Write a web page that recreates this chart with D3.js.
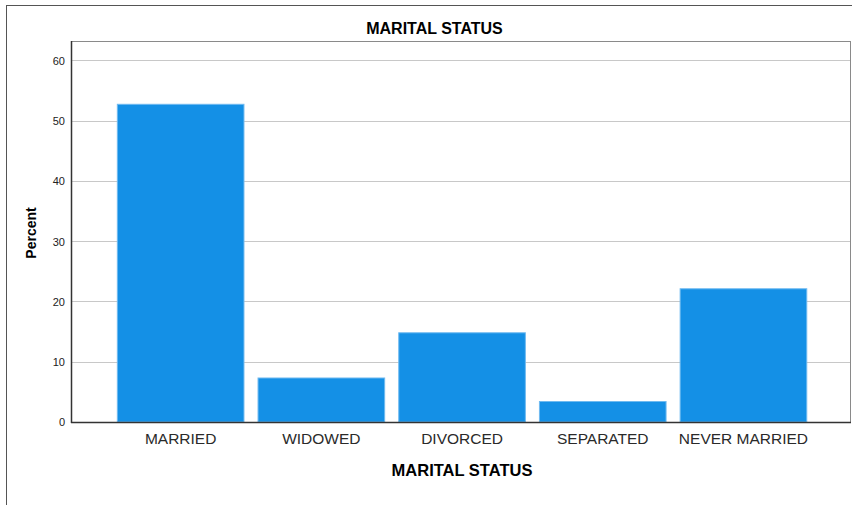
<html>
<head>
<meta charset="utf-8">
<script src="https://d3js.org/d3.v7.min.js"></script>
<style>
  body { margin: 0; background: #fff; }
  svg { font-family: "Liberation Sans", Arial, sans-serif; }
  .grid line { stroke: #c8c8c8; stroke-width: 1; }
  .ytick text { font-size: 11px; fill: #222; }
  .xtick text { font-size: 15.5px; fill: #2a2a2a; }
</style>
</head>
<body>
<div id="chart"></div>
<script>
// data
var categories = ["MARRIED", "WIDOWED", "DIVORCED", "SEPARATED", "NEVER MARRIED"];
var percents = [52.7, 7.3, 14.8, 3.4, 22.1];
var yTicks = [0, 10, 20, 30, 40, 50, 60];

var width = 852, height = 505;
var plot = { left: 71, top: 41, right: 850, bottom: 422 };

var svg = d3.select("#chart").append("svg")
  .attr("width", width)
  .attr("height", height);

// outer frame
svg.append("rect")
  .attr("x", 6.5).attr("y", 5.5)
  .attr("width", 850).attr("height", 520)
  .attr("fill", "none")
  .attr("stroke", "#555");

/* Scales */
var xScale = d3.scaleBand()
  .domain(categories)
  .range([110.3, 813.8])
  .paddingInner(0.1)
  .paddingOuter(0.05);

var yScale = d3.scaleLinear()
  .domain([0, 63.2])
  .range([plot.bottom, plot.top]);

/* plot frame (top / right in grey) */
svg.append("rect")
  .attr("x", plot.left + 0.5).attr("y", plot.top + 0.5)
  .attr("width", plot.right - plot.left).attr("height", plot.bottom - plot.top)
  .attr("fill", "none")
  .attr("stroke", "#8a8a8a");

/* Grid */
svg.append("g")
  .attr("class", "grid")
  .selectAll("line")
  .data(yTicks.filter(d => d > 0)).enter()
  .append("line")
  .attr("x1", plot.left).attr("x2", plot.right)
  .attr("y1", d => Math.round(yScale(d)) + 0.5)
  .attr("y2", d => Math.round(yScale(d)) + 0.5);

/* Bars */
svg.append("g")
  .selectAll("rect")
  .data(categories).enter()
  .append("rect")
  .attr("x", d => xScale(d))
  .attr("width", xScale.bandwidth())
  .attr("y", (d, i) => yScale(percents[i]))
  .attr("height", (d, i) => plot.bottom - yScale(percents[i]))
  .attr("fill", "#1490e6")
  .attr("stroke", "#6fbaf0")
  .attr("stroke-width", 1);

/* Axes */
var yAxis = d3.axisLeft(yScale).tickValues(yTicks).tickSize(0).tickPadding(6);
svg.append("g")
  .attr("class", "ytick")
  .attr("transform", `translate(${plot.left}, 0)`)
  .call(yAxis)
  .call(g => g.select(".domain").remove())
  .selectAll("text").attr("dy", "0.35em");

var xAxis = d3.axisBottom(xScale).tickSize(0).tickPadding(11);
svg.append("g")
  .attr("class", "xtick")
  .attr("transform", `translate(0, ${plot.bottom})`)
  .call(xAxis)
  .call(g => g.select(".domain").remove());

// axis lines
svg.append("line")
  .attr("x1", plot.left + 0.5).attr("x2", plot.left + 0.5)
  .attr("y1", plot.top).attr("y2", plot.bottom + 1)
  .attr("stroke", "#333").attr("stroke-width", 1.5);
svg.append("line")
  .attr("x1", plot.left).attr("x2", plot.right + 1)
  .attr("y1", plot.bottom + 0.5).attr("y2", plot.bottom + 0.5)
  .attr("stroke", "#333").attr("stroke-width", 1.5);

/* Titles */
svg.append("text")
  .attr("x", 434.5).attr("y", 34)
  .attr("text-anchor", "middle")
  .attr("font-size", "16px").attr("font-weight", "bold")
  .text("MARITAL STATUS");

svg.append("text")
  .attr("x", 462).attr("y", 476)
  .attr("text-anchor", "middle")
  .attr("font-size", "16.5px").attr("font-weight", "bold")
  .text("MARITAL STATUS");

svg.append("text")
  .attr("transform", "translate(36, 233) rotate(-90)")
  .attr("text-anchor", "middle")
  .attr("font-size", "14px").attr("font-weight", "bold")
  .text("Percent");
</script>
</body>
</html>
